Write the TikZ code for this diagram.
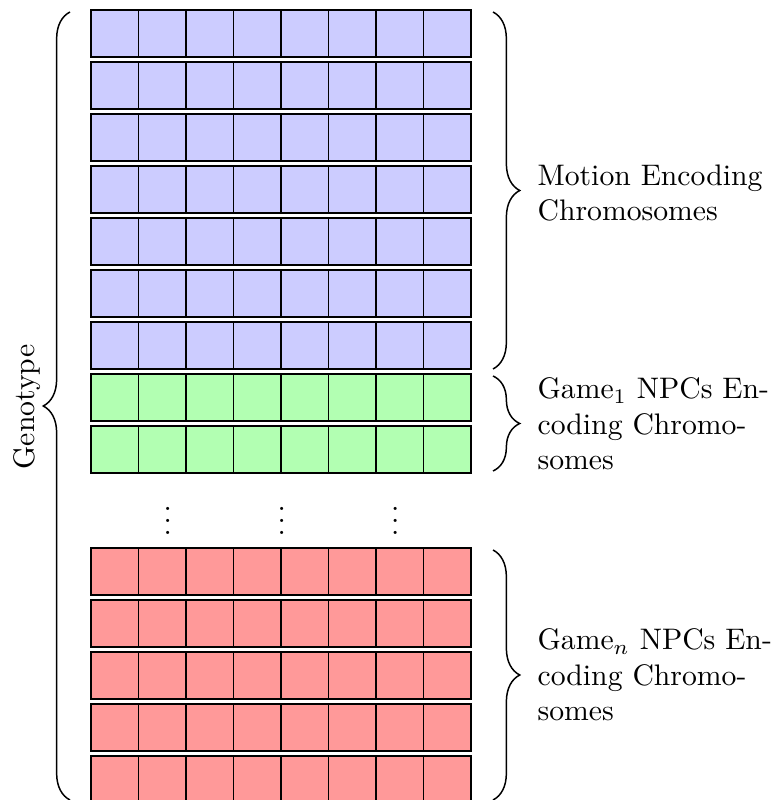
\documentclass[tikz,border=0pt]{standalone}
\usetikzlibrary{decorations.pathreplacing}
\begin{document}
\begin{tikzpicture}[x=0.3367pt,y=-0.3367pt,
  cellline/.style={draw=black, line width=0.4pt},
  bluecell/.style={cellline, fill=blue!20},
  greencell/.style={cellline, fill=green!30},
  redcell/.style={cellline, fill=red!40},
  bracedeco/.style={decorate, decoration={brace, amplitude=9pt}, line width=0.5pt},
  sidelabel/.style={anchor=west, align=left, inner sep=0pt}]
\useasboundingbox (0,0) rectangle (770,800);
% motion encoding chromosomes
\foreach \top in {10,62,...,322} {
  \foreach \c in {0,...,7} {
    \draw[bluecell] ({91+47.5*\c},\top) rectangle ++(47.5,47);
  }
}
% game 1 chromosomes
\foreach \top in {374,426} {
  \foreach \c in {0,...,7} {
    \draw[greencell] ({91+47.5*\c},\top) rectangle ++(47.5,47);
  }
}
% game n chromosomes
\foreach \top in {548,600,...,756} {
  \foreach \c in {0,...,7} {
    \draw[redcell] ({91+47.5*\c},\top) rectangle ++(47.5,47);
  }
}
% vertical ellipsis
\node (d1) at (167.7,512) {$\vdots$};
\node (d2) at (281.7,512) {$\vdots$};
\node (d3) at (395.3,512) {$\vdots$};
% braces
\coordinate (mtop) at (493,12);
\coordinate (mbot) at (493,369);
\coordinate (gtop) at (493,376);
\coordinate (gbot) at (493,471);
\coordinate (rtop) at (493,550);
\coordinate (rbot) at (493,800);
\coordinate (ltop) at (70,12);
\coordinate (lbot) at (70,800);
\draw[bracedeco] (mtop) -- (mbot);
\draw[bracedeco] (gtop) -- (gbot);
\draw[bracedeco] (rtop) -- (rbot);
\draw[bracedeco] (lbot) -- (ltop);
% labels
\node[sidelabel] (mlab) at (537,193) {Motion Encoding\\Chromosomes};
\node[sidelabel] (glab) at (537,424) {Game$_1$ NPCs En-\\coding Chromo-\\somes};
\node[sidelabel] (rlab) at (537,675) {Game$_n$ NPCs En-\\coding Chromo-\\somes};
\node[rotate=90] (geno) at (27,407) {Genotype};
\end{tikzpicture}
\end{document}
